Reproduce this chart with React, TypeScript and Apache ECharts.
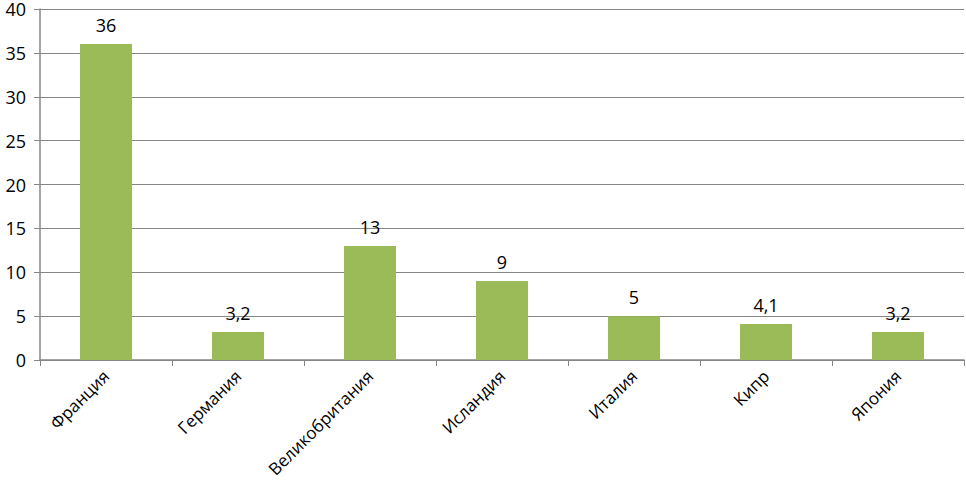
import React, { useEffect, useRef } from "react";
import * as echarts from "echarts";

const categories = ["Франция", "Германия", "Великобритания", "Исландия", "Италия", "Кипр", "Япония"];
const values = [36, 3.2, 13, 9, 5, 4.1, 3.2];
const yMin = 0;
const yMax = 40;
const yInterval = 5;

export default function App() {
  const ref = useRef<HTMLDivElement>(null);
  useEffect(() => {
    if (!ref.current) return;
    const chart = echarts.init(ref.current, null, { renderer: "svg" });
    const font = "'Open Sans', Calibri, sans-serif";
    chart.setOption({
      animation: false,
      grid: { left: 40, right: 2, top: 8, bottom: 130, containLabel: false },
      xAxis: {
        type: "category",
        data: categories,
        axisLine: { lineStyle: { color: "#868686", width: 1.5 } },
        axisTick: { show: true, length: 6, lineStyle: { color: "#868686" } },
        axisLabel: {
          rotate: 45,
          interval: 0,
          color: "#000",
          fontSize: 17,
          fontFamily: font,
          margin: 13,
        },
      },
      yAxis: {
        type: "value",
        min: yMin,
        max: yMax,
        interval: yInterval,
        axisLine: { show: true, lineStyle: { color: "#868686", width: 1.5 } },
        axisTick: { show: true, length: 6, lineStyle: { color: "#868686" } },
        splitLine: { lineStyle: { color: "#868686", width: 1 } },
        axisLabel: { color: "#000", fontSize: 18, fontFamily: font, margin: 14 },
      },
      series: [
        {
          type: "bar",
          data: values,
          barWidth: 52,
          itemStyle: { color: "#9BBB59" },
          label: {
            show: true,
            position: "top",
            distance: 10,
            color: "#000",
            fontSize: 18,
            fontFamily: font,
            formatter: (p: any) => String(p.value).replace(".", ","),
          },
        },
      ],
    });
    return () => chart.dispose();
  }, []);
  return <div ref={ref} style={{ width: 966, height: 490, position: "absolute", left: 0, top: 0 }} />;
}
